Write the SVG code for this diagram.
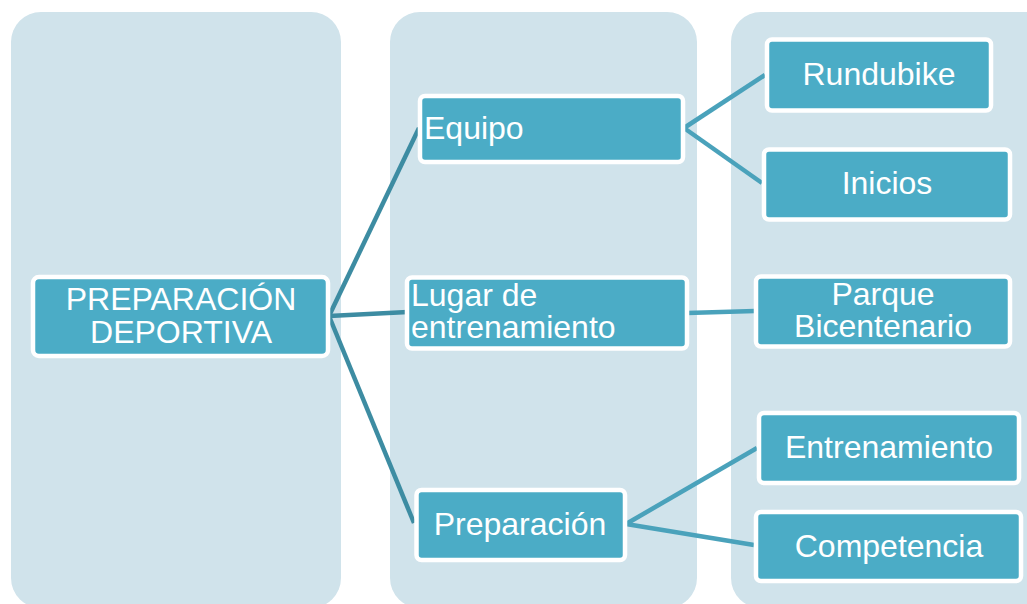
<svg xmlns="http://www.w3.org/2000/svg" width="1027" height="604" viewBox="0 0 1027 604">
<style>
.panel{fill:#D0E3EB}
.node{fill:#4BACC6;stroke:#FFFFFF;stroke-width:4.5}
.t{font-family:"Liberation Sans",Arial,sans-serif;font-size:32px;fill:#FFFFFF}
.c{text-anchor:middle}
.l1{stroke:#3D8CA2;stroke-width:4.5;fill:none}
.l2{stroke:#4AA2BB;stroke-width:4.5;fill:none}
</style>
<rect width="1027" height="604" fill="#FFFFFF"/>
<g id="panels">
<rect class="panel" x="11" y="12" width="330" height="596" rx="30"/>
<rect class="panel" x="390" y="12" width="307" height="596" rx="30"/>
<rect class="panel" x="731" y="12" width="330" height="596" rx="30"/>
</g>
<g id="connectors">
<line class="l1" x1="329" y1="316" x2="419" y2="128"/>
<line class="l1" x1="329" y1="316" x2="408" y2="312"/>
<line class="l1" x1="329" y1="316" x2="414" y2="523"/>
<line class="l2" x1="684" y1="128" x2="765" y2="75"/>
<line class="l2" x1="684" y1="128" x2="762" y2="183"/>
<line class="l2" x1="687" y1="313" x2="755" y2="311"/>
<line class="l2" x1="626" y1="524" x2="757" y2="448"/>
<line class="l2" x1="626" y1="524" x2="754" y2="545"/>
</g>
<g id="n-main">
<rect class="node" x="33" y="277" width="295" height="79" rx="6"/>
<text class="t c" x="181" y="310">PREPARACIÓN</text>
<text class="t c" x="181" y="343">DEPORTIVA</text>
</g>
<g id="n-equipo">
<rect class="node" x="420" y="96" width="263" height="66" rx="5"/>
<text class="t" x="424" y="139">Equipo</text>
</g>
<g id="n-lugar">
<rect class="node" x="407" y="277.5" width="280" height="71" rx="5"/>
<text class="t" x="411" y="306">Lugar de</text>
<text class="t" x="411" y="338">entrenamiento</text>
</g>
<g id="n-preparacion">
<rect class="node" x="416.5" y="490" width="208.5" height="70" rx="5"/>
<text class="t c" x="520" y="535">Preparación</text>
</g>
<g id="n-rundubike">
<rect class="node" x="767" y="39.5" width="224" height="71" rx="5"/>
<text class="t c" x="879" y="85">Rundubike</text>
</g>
<g id="n-inicios">
<rect class="node" x="764" y="149.5" width="246" height="70" rx="5"/>
<text class="t c" x="887" y="194">Inicios</text>
</g>
<g id="n-parque">
<rect class="node" x="756" y="276.5" width="254" height="70" rx="5"/>
<text class="t c" x="883" y="305">Parque</text>
<text class="t c" x="883" y="337">Bicentenario</text>
</g>
<g id="n-entrenamiento">
<rect class="node" x="759" y="413" width="260" height="70" rx="5"/>
<text class="t c" x="889" y="458">Entrenamiento</text>
</g>
<g id="n-competencia">
<rect class="node" x="756" y="512" width="265" height="69" rx="5"/>
<text class="t c" x="889" y="557">Competencia</text>
</g>
</svg>
